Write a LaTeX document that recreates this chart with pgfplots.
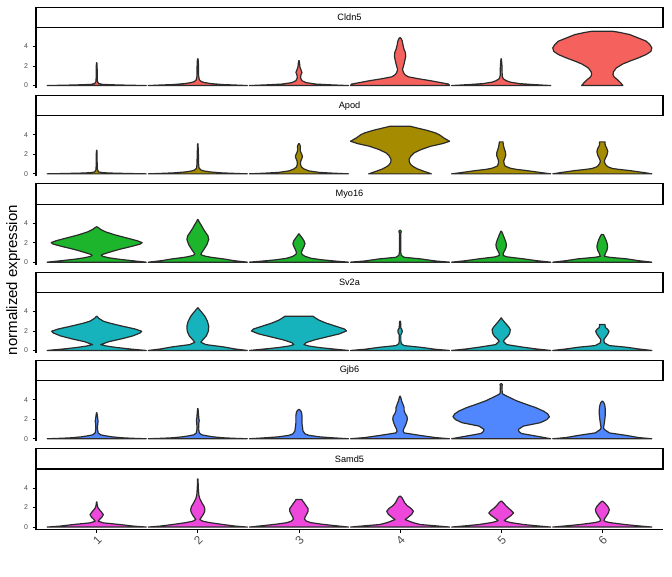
\documentclass[border=0pt]{standalone}
\usepackage{fontspec}
\setmainfont{Liberation Sans}
\usepackage{pgfplots}
\usepackage{pgfplotstable}
\pgfplotsset{compat=1.18}
\usepgfplotslibrary{fillbetween}
\definecolor{cA}{HTML}{F5615C}
\definecolor{cB}{HTML}{A58B00}
\definecolor{cC}{HTML}{1CB52C}
\definecolor{cD}{HTML}{17B3BC}
\definecolor{cE}{HTML}{5087FF}
\definecolor{cF}{HTML}{EE47DB}
\definecolor{vlc}{HTML}{2B2B2B}
\definecolor{tkc}{HTML}{4D4D4D}
% ---- Cldn5
\pgfplotstableread[row sep=\\]{y w\\0 .49\\.04 .3\\.08 .15\\.12 .06\\.2 .02\\.4 .008\\.8 .005\\1.6 .005\\2.0 .004\\2.33 .002\\}\TaA
\pgfplotstableread[row sep=\\]{y w\\0 .49\\.05 .38\\.1 .25\\.2 .13\\.3 .07\\.4 .035\\.6 .015\\1 .008\\2 .007\\2.5 .005\\2.74 .002\\}\TaB
\pgfplotstableread[row sep=\\]{y w\\0 .49\\.08 .3\\.15 .17\\.3 .07\\.5 .03\\.8 .016\\1.1 .02\\1.35 .03\\1.6 .02\\1.9 .01\\2.2 .007\\2.55 .002\\}\TaC
\pgfplotstableread[row sep=\\]{y w\\0 .49\\.15 .48\\.5 .3\\.7 .18\\.9 .08\\1.1 .05\\1.3 .035\\1.64 .024\\2.0 .034\\2.5 .046\\3.0 .056\\3.4 .052\\3.7 .04\\4.1 .03\\4.55 .022\\4.8 .012\\4.9 .003\\}\TaD
\pgfplotstableread[row sep=\\]{y w\\0 .49\\.1 .32\\.2 .18\\.35 .09\\.5 .05\\.7 .02\\1 .01\\2 .008\\2.74 .002\\}\TaE
\pgfplotstableread[row sep=\\]{y w\\0 .204\\.3 .18\\.6 .15\\.9 .115\\1.13 .106\\1.4 .11\\1.8 .138\\2.2 .2\\2.5 .27\\2.85 .36\\3.18 .434\\3.5 .48\\3.86 .49\\4.2 .47\\4.55 .434\\4.9 .35\\5.23 .27\\5.45 .17\\5.57 .1\\}\TaF
% ---- Apod
\pgfplotstableread[row sep=\\]{y w\\0 .49\\.04 .3\\.08 .15\\.12 .06\\.2 .02\\.4 .008\\.8 .005\\2 .004\\2.42 .002\\}\TbA
\pgfplotstableread[row sep=\\]{y w\\0 .49\\.05 .36\\.1 .24\\.2 .12\\.3 .06\\.4 .03\\.6 .012\\1 .008\\2 .006\\3.08 .002\\}\TbB
\pgfplotstableread[row sep=\\]{y w\\0 .49\\.08 .32\\.15 .2\\.3 .1\\.5 .05\\.7 .025\\1 .015\\1.3 .018\\1.6 .03\\1.8 .035\\2.0 .028\\2.3 .015\\2.6 .012\\2.8 .015\\3.0 .008\\3.1 .002\\}\TbC
\pgfplotstableread[row sep=\\]{y w\\0 .31\\.25 .24\\.51 .172\\.75 .13\\.95 .106\\1.2 .092\\1.47 .089\\1.8 .105\\2.15 .138\\2.5 .21\\2.83 .303\\3.1 .42\\3.34 .49\\3.7 .43\\4.0 .39\\4.2 .35\\4.45 .27\\4.65 .19\\4.8 .13\\4.88 .1\\}\TbD
\pgfplotstableread[row sep=\\]{y w\\0 .49\\.15 .38\\.34 .25\\.46 .15\\.58 .09\\.79 .04\\1.0 .03\\1.3 .025\\1.6 .035\\1.9 .045\\2.2 .043\\2.5 .033\\2.8 .025\\3.1 .02\\3.28 .018\\}\TbE
\pgfplotstableread[row sep=\\]{y w\\0 .49\\.12 .42\\.25 .33\\.34 .27\\.45 .17\\.55 .1\\.7 .06\\.85 .04\\1.1 .025\\1.3 .02\\1.6 .03\\1.9 .045\\2.3 .054\\2.6 .045\\2.9 .03\\3.1 .027\\3.28 .027\\}\TbF
% ---- Myo16
\pgfplotstableread[row sep=\\]{y w\\0 .49\\.15 .35\\.3 .22\\.45 .12\\.6 .06\\.7 .045\\.8 .06\\1.0 .12\\1.3 .22\\1.6 .34\\1.85 .43\\2.0 .45\\2.2 .40\\2.5 .29\\2.8 .18\\3.1 .09\\3.35 .04\\3.55 .015\\3.62 .003\\}\TcA
\pgfplotstableread[row sep=\\]{y w\\0 .49\\.15 .36\\.34 .25\\.5 .13\\.6 .08\\.7 .045\\.8 .03\\1.0 .04\\1.3 .06\\1.8 .09\\2.32 .108\\2.7 .1\\3.0 .08\\3.4 .055\\3.86 .03\\4.1 .015\\4.37 .002\\}\TcB
\pgfplotstableread[row sep=\\]{y w\\0 .49\\.12 .35\\.25 .22\\.4 .12\\.6 .06\\.8 .03\\1.0 .025\\1.3 .035\\1.6 .05\\1.9 .06\\2.2 .05\\2.5 .03\\2.75 .012\\2.9 .003\\}\TcC
\pgfplotstableread[row sep=\\]{y w\\0 .49\\.12 .35\\.34 .2\\.5 .04\\.7 .012\\1 .007\\2 .006\\3.0 .006\\3.1 .012\\3.2 .01\\3.27 .003\\}\TcD
\pgfplotstableread[row sep=\\]{y w\\0 .49\\.15 .35\\.34 .22\\.54 .06\\.68 .02\\.9 .02\\1.2 .035\\1.5 .048\\1.8 .052\\2.1 .045\\2.5 .03\\2.9 .015\\3.17 .003\\}\TcE
\pgfplotstableread[row sep=\\]{y w\\0 .49\\.15 .36\\.34 .24\\.5 .07\\.6 .02\\.9 .03\\1.2 .045\\1.5 .052\\1.7 .052\\2.0 .045\\2.3 .035\\2.6 .022\\2.83 .01\\}\TcF
% ---- Sv2a
\pgfplotstableread[row sep=\\]{y w\\0 .49\\.15 .33\\.3 .2\\.45 .1\\.6 .04\\.9 .12\\1.2 .25\\1.5 .36\\1.8 .43\\1.97 .445\\2.2 .38\\2.5 .25\\2.8 .13\\3.0 .066\\3.3 .02\\3.5 .003\\}\TdA
\pgfplotstableread[row sep=\\]{y w\\0 .49\\.15 .37\\.37 .25\\.6 .08\\.84 .03\\1.1 .05\\1.5 .085\\2.0 .105\\2.48 .108\\3.0 .095\\3.5 .07\\3.9 .04\\4.2 .015\\4.37 .002\\}\TdB
\pgfplotstableread[row sep=\\]{y w\\0 .49\\.15 .34\\.3 .2\\.45 .1\\.6 .05\\.8 .07\\1.1 .16\\1.4 .28\\1.7 .4\\2.0 .47\\2.2 .45\\2.5 .36\\2.8 .27\\3.1 .2\\3.35 .16\\3.5 .14\\}\TdC
\pgfplotstableread[row sep=\\]{y w\\0 .49\\.12 .35\\.33 .2\\.5 .04\\.7 .012\\1 .008\\1.6 .008\\1.8 .018\\1.97 .022\\2.15 .018\\2.3 .008\\2.8 .006\\3.0 .003\\}\TdD
\pgfplotstableread[row sep=\\]{y w\\0 .49\\.15 .35\\.33 .22\\.6 .055\\.94 .02\\1.2 .04\\1.5 .07\\1.8 .085\\2.14 .09\\2.4 .075\\2.7 .05\\3.0 .025\\3.2 .01\\3.34 .002\\}\TdE
\pgfplotstableread[row sep=\\]{y w\\0 .49\\.15 .36\\.33 .24\\.5 .07\\.78 .02\\1.12 .015\\1.4 .035\\1.7 .055\\1.97 .066\\2.2 .05\\2.35 .03\\2.6 .027\\2.66 .027\\}\TdF
% ---- Gjb6
\pgfplotstableread[row sep=\\]{y w\\0 .49\\.05 .35\\.1 .25\\.2 .15\\.3 .09\\.4 .04\\.6 .015\\1 .008\\1.5 .01\\1.8 .014\\2.1 .01\\2.4 .006\\2.67 .002\\}\TeA
\pgfplotstableread[row sep=\\]{y w\\0 .49\\.05 .35\\.1 .25\\.2 .15\\.3 .09\\.4 .04\\.6 .015\\1 .008\\1.6 .01\\1.85 .014\\2.1 .01\\2.6 .006\\3.1 .002\\}\TeB
\pgfplotstableread[row sep=\\]{y w\\0 .49\\.1 .33\\.2 .2\\.35 .1\\.5 .06\\.8 .04\\1.2 .035\\1.6 .03\\2.0 .03\\2.4 .03\\2.7 .025\\2.9 .015\\3.0 .003\\}\TeC
\pgfplotstableread[row sep=\\]{y w\\0 .49\\.12 .35\\.34 .2\\.6 .04\\.78 .03\\1.0 .035\\1.3 .05\\1.7 .065\\2.0 .072\\2.3 .068\\2.6 .05\\2.9 .04\\3.2 .04\\3.5 .03\\3.9 .015\\4.2 .008\\4.37 .002\\}\TeD
\pgfplotstableread[row sep=\\]{y w\\0 .49\\.2 .385\\.54 .2\\.75 .175\\.95 .17\\1.1 .19\\1.3 .22\\1.64 .385\\1.95 .45\\2.25 .477\\2.55 .46\\2.83 .42\\3.2 .34\\3.52 .25\\3.9 .15\\4.2 .09\\4.45 .04\\4.6 .015\\4.72 .01\\5.4 .008\\5.55 .012\\5.64 .004\\}\TeE
\pgfplotstableread[row sep=\\]{y w\\0 .49\\.12 .36\\.34 .24\\.6 .07\\.95 .02\\1.13 .012\\1.5 .018\\2.0 .025\\2.5 .03\\3.0 .03\\3.4 .025\\3.7 .015\\3.86 .003\\}\TeF
% ---- Samd5
\pgfplotstableread[row sep=\\]{y w\\0 .49\\.1 .36\\.26 .23\\.43 .066\\.6 .015\\.8 .03\\1.0 .05\\1.28 .066\\1.5 .05\\1.75 .03\\2.0 .012\\2.3 .005\\2.58 .002\\}\TfA
\pgfplotstableread[row sep=\\]{y w\\0 .49\\.1 .37\\.26 .25\\.45 .12\\.6 .05\\.77 .02\\1.0 .035\\1.3 .055\\1.6 .068\\1.8 .07\\2.1 .063\\2.5 .04\\2.9 .02\\3.3 .01\\4.0 .005\\4.94 .002\\}\TfB
\pgfplotstableread[row sep=\\]{y w\\0 .49\\.15 .35\\.3 .22\\.45 .12\\.6 .075\\.8 .055\\1.0 .06\\1.3 .075\\1.6 .09\\1.9 .09\\2.2 .07\\2.5 .05\\2.7 .035\\2.82 .03\\}\TfC
\pgfplotstableread[row sep=\\]{y w\\0 .49\\.12 .36\\.26 .2\\.45 .13\\.6 .09\\.77 .05\\1.0 .08\\1.3 .115\\1.62 .132\\1.9 .11\\2.2 .07\\2.5 .045\\2.8 .03\\3.0 .02\\3.16 .005\\}\TfD
\pgfplotstableread[row sep=\\]{y w\\0 .49\\.12 .36\\.26 .22\\.45 .1\\.55 .06\\.67 .03\\.9 .06\\1.2 .1\\1.45 .123\\1.7 .1\\1.95 .07\\2.2 .045\\2.45 .025\\2.65 .005\\}\TfE
\pgfplotstableread[row sep=\\]{y w\\0 .49\\.12 .36\\.26 .22\\.45 .08\\.55 .035\\.67 .015\\.9 .025\\1.2 .045\\1.5 .062\\1.8 .069\\2.1 .055\\2.4 .03\\2.6 .01\\2.65 .003\\}\TfF

\newcommand{\vln}[3]{%
  \addplot[draw=none, name path=R#1] table[x expr={#1+\thisrow{w}}, y=y]{#2};
  \addplot[draw=none, name path=L#1] table[x expr={#1-\thisrow{w}}, y=y]{#2};
  \addplot[fill=#3, draw=vlc, line width=0.9pt, line join=round] fill between[of=R#1 and L#1, reverse=true];
}

\pgfplotsset{
  vpanel/.style={
    width=470.25pt, height=45pt, scale only axis,
    xmin=0.4, xmax=6.6, ymin=-0.25, ymax=5.9,
    axis y line*=left,
    axis line style={line width=0.8pt, -, black},
    ytick={0,2,4},
    tick align=outside, major tick length=2.5pt,
    tick style={line width=0.6pt, black},
    yticklabel style={font=\fontsize{5.2}{6}\selectfont, text=tkc},
    /pgf/number format/assume math mode=true,
    every axis title/.style={at={(0.5,1)}, anchor=south, draw=black, line width=0.8pt,
      minimum width=470.25pt, minimum height=15.2pt, inner sep=0pt,
      font=\fontsize{6.9}{8}\selectfont},
  }
}

\begin{document}
\begin{tikzpicture}
\path (0,0) rectangle (504pt,432pt);

\begin{axis}[vpanel, axis x line=none, at={(27pt,366pt)}, anchor=south west, title={Cldn5}]
\vln{1}{\TaA}{cA}\vln{2}{\TaB}{cA}\vln{3}{\TaC}{cA}\vln{4}{\TaD}{cA}\vln{5}{\TaE}{cA}\vln{6}{\TaF}{cA}
\end{axis}

\begin{axis}[vpanel, axis x line=none, at={(27pt,299.775pt)}, anchor=south west, title={Apod}]
\vln{1}{\TbA}{cB}\vln{2}{\TbB}{cB}\vln{3}{\TbC}{cB}\vln{4}{\TbD}{cB}\vln{5}{\TbE}{cB}\vln{6}{\TbF}{cB}
\end{axis}

\begin{axis}[vpanel, axis x line=none, at={(27pt,233.55pt)}, anchor=south west, title={Myo16}]
\vln{1}{\TcA}{cC}\vln{2}{\TcB}{cC}\vln{3}{\TcC}{cC}\vln{4}{\TcD}{cC}\vln{5}{\TcE}{cC}\vln{6}{\TcF}{cC}
\end{axis}

\begin{axis}[vpanel, axis x line=none, at={(27pt,167.325pt)}, anchor=south west, title={Sv2a}]
\vln{1}{\TdA}{cD}\vln{2}{\TdB}{cD}\vln{3}{\TdC}{cD}\vln{4}{\TdD}{cD}\vln{5}{\TdE}{cD}\vln{6}{\TdF}{cD}
\end{axis}

\begin{axis}[vpanel, axis x line=none, at={(27pt,101.1pt)}, anchor=south west, title={Gjb6}]
\vln{1}{\TeA}{cE}\vln{2}{\TeB}{cE}\vln{3}{\TeC}{cE}\vln{4}{\TeD}{cE}\vln{5}{\TeE}{cE}\vln{6}{\TeF}{cE}
\end{axis}

\begin{axis}[vpanel, axis x line*=bottom, at={(27pt,34.875pt)}, anchor=south west, title={Samd5},
  xtick={1,2,3,4,5,6},
  xticklabel style={font=\fontsize{8.8}{10}\selectfont, text=tkc, rotate=45, anchor=north east, inner sep=1pt}]
\vln{1}{\TfA}{cF}\vln{2}{\TfB}{cF}\vln{3}{\TfC}{cF}\vln{4}{\TfD}{cF}\vln{5}{\TfE}{cF}\vln{6}{\TfF}{cF}
\end{axis}

\node[rotate=90, font=\fontsize{11.25}{13}\selectfont] at (10pt,222pt) {normalized expression};
\end{tikzpicture}
\end{document}
